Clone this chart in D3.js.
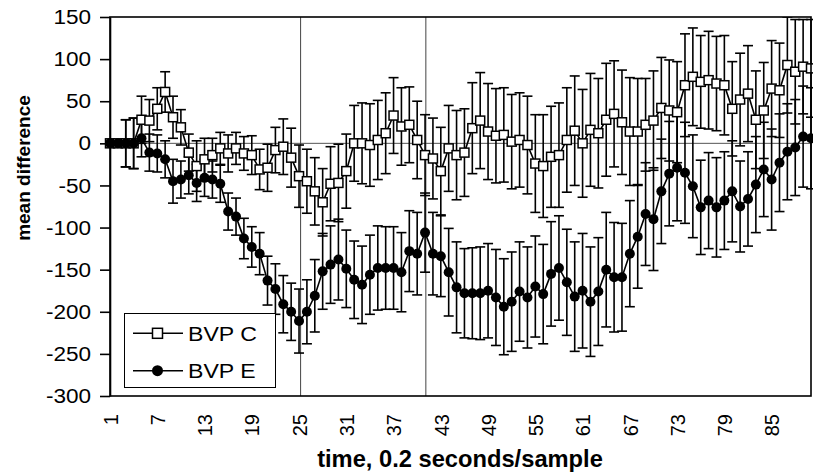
<!DOCTYPE html>
<html><head><meta charset="utf-8">
<script src="https://cdn.jsdelivr.net/npm/d3@7"></script>
<style>body{margin:0;background:#fff} text{font-family:"Liberation Sans",Arial,sans-serif;fill:#000}</style>
</head><body><svg id="c" width="813" height="476"></svg>
<script>
const samples = d3.range(1, 91);
const bvpC = [0,0,0,0,28,27,41,61,31,19, -11,-27,-19,-14,-6,-12,-6,-12,-14,-31,
  -29,-8,-4,-17,-39,-45,-57,-70,-48,-47, -33,0,0,-2,4,12,33,20,22,4,
  -14,-18,-33,-6,-14,-11,18,27,14,9, 10,2,4,-2,-24,-27,-16,-14,4,15,
  0,16,12,28,35,25,14,14,22,27, 42,39,37,69,79,73,75,71,69,41,
  52,59,28,39,65,63,93,85,91,89];
const bvpE = [0,0,0,0,6,-11,-12,-19,-45,-43, -38,-47,-41,-43,-48,-81,-87,-113,-123,-131,
  -163,-173,-191,-200,-211,-200,-181,-152,-144,-138, -149,-162,-168,-156,-148,-148,-148,-153,-128,-131,
  -106,-131,-134,-153,-171,-178,-178,-178,-175,-183, -194,-188,-176,-183,-170,-179,-155,-148,-165,-182,
  -175,-188,-176,-150,-159,-159,-131,-111,-84,-90, -57,-36,-29,-35,-51,-76,-68,-76,-68,-57,
  -75,-66,-49,-31,-43,-23,-10,-5,8,6];
const errC = [0,0,28,30,28,25,25,24,25,21, 22,30,25,20,19,22,19,20,23,24,
  28,27,33,35,37,38,40,40,44,46, 44,45,48,49,47,48,45,46,45,46,
  48,48,52,51,53,52,54,57,57,56, 56,56,56,58,58,61,60,62,62,65,
  64,67,65,67,63,62,64,63,55,59, 60,60,60,61,58,55,58,56,59,56,
  55,57,58,57,57,56,57,62,56,58];
const errE = [0,0,28,30,22,22,22,22,26,22, 22,22,22,22,22,22,22,24,24,25,
  29,30,34,34,38,38,43,45,46,48, 46,46,46,47,50,49,49,47,48,49,
  47,49,48,52,54,53,54,55,56,57, 57,59,59,60,60,59,62,62,63,65,
  68,65,64,68,65,64,63,61,61,61, 62,62,63,60,61,56,57,59,58,60,
  54,56,57,56,60,58,57,57,60,60];
const seriesNames = ["BVP C", "BVP E"];
const xTickLabels = [1,7,13,19,25,31,37,43,49,55,61,67,73,79,85];
const yTicks = [-300,-250,-200,-150,-100,-50,0,50,100,150];
const markerLines = [25.2, 41.1];

const L = 110, R = 811, T = 17, B = 396;
const svg = d3.select("#c");
const x = d3.scaleLinear().domain([1, 90]).range([L, R]);
const y = d3.scaleLinear().domain([-300, 150]).range([B, T]);

svg.append("defs").append("clipPath").attr("id", "clip")
  .append("rect").attr("x", L - 10).attr("y", T).attr("width", R - L + 20).attr("height", B - T);

// zero line
svg.append("line").attr("x1", L).attr("x2", R).attr("y1", y(0)).attr("y2", y(0))
  .attr("stroke", "#555").attr("stroke-width", 1);
// vertical marker lines
svg.selectAll(".vl").data(markerLines).enter().append("line")
  .attr("x1", d => x(d)).attr("x2", d => x(d)).attr("y1", T).attr("y2", B)
  .attr("stroke", "#444").attr("stroke-width", 1);

const series = [
  {name: seriesNames[0], vals: bvpC, err: errC},
  {name: seriesNames[1], vals: bvpE, err: errE}
];

// error bars
const eg = svg.append("g").attr("clip-path", "url(#clip)")
  .attr("stroke", "#000").attr("stroke-width", 1.6).attr("fill", "none");
series.forEach(s => {
  samples.forEach((c, i) => {
    const e = s.err[i];
    if (!e) return;
    const cx = x(c), y1 = y(s.vals[i] + e), y2 = y(s.vals[i] - e);
    eg.append("line").attr("x1", cx).attr("x2", cx).attr("y1", y1).attr("y2", y2);
    eg.append("line").attr("x1", cx - 5).attr("x2", cx + 5).attr("y1", y1).attr("y2", y1);
    eg.append("line").attr("x1", cx - 5).attr("x2", cx + 5).attr("y1", y2).attr("y2", y2);
  });
});

const line = d3.line().x((d, i) => x(samples[i])).y(d => y(d));
series.forEach((s, k) => {
  svg.append("path").datum(s.vals).attr("d", line)
    .attr("fill", "none").attr("stroke", "#000").attr("stroke-width", 1.6);
  if (k === 0) {
    svg.append("g").selectAll("rect").data(s.vals).enter().append("rect")
      .attr("x", (d, i) => x(samples[i]) - 4.5).attr("y", d => y(d) - 4.5)
      .attr("width", 9).attr("height", 9)
      .attr("fill", "#fff").attr("stroke", "#000").attr("stroke-width", 1.5);
  } else {
    svg.append("g").selectAll("circle").data(s.vals).enter().append("circle")
      .attr("cx", (d, i) => x(samples[i])).attr("cy", d => y(d)).attr("r", 5)
      .attr("fill", "#000");
  }
});

// plot border
svg.append("rect").attr("x", L).attr("y", T).attr("width", R - L).attr("height", B - T)
  .attr("fill", "none").attr("stroke", "#000").attr("stroke-width", 1.6);

// y axis
const ya = svg.append("g").attr("transform", `translate(${L},0)`)
  .call(d3.axisLeft(y).tickValues(yTicks).tickSize(10).tickPadding(9).tickSizeOuter(0)
    .tickFormat(d => String(d)));
ya.select(".domain").attr("stroke-width", 1.6);
ya.selectAll(".tick line").attr("stroke-width", 1.6);
ya.selectAll(".tick text").attr("font-size", 20.5)
  .attr("font-family", '"Liberation Sans",Arial,sans-serif')
  .attr("x", -19 / 1.1).attr("transform", "scale(1.1,1)");

// x axis labels
const xa = svg.append("g").attr("transform", `translate(0,${B})`)
  .call(d3.axisBottom(x).tickValues(xTickLabels).tickSize(0).tickFormat(d => String(d)));
xa.select(".domain").remove();
xa.selectAll(".tick text").attr("font-size", 20)
  .attr("font-family", '"Liberation Sans",Arial,sans-serif')
  .attr("transform", "rotate(-90)").attr("text-anchor", "end")
  .attr("x", -18).attr("y", 0).attr("dy", "0.36em");

// axis titles
svg.append("text").attr("transform", "translate(30,168) rotate(-90)")
  .attr("text-anchor", "middle").attr("font-weight", "bold").attr("font-size", 19)
  .text("mean difference");
svg.append("text").attr("x", 460).attr("y", 466.5)
  .attr("text-anchor", "middle").attr("font-weight", "bold").attr("font-size", 23.7)
  .text("time, 0.2 seconds/sample");

// legend
const lg = svg.append("g");
lg.append("rect").attr("x", 124.5).attr("y", 313.5).attr("width", 151).attr("height", 74)
  .attr("fill", "#fff").attr("stroke", "#000").attr("stroke-width", 1);
const ly = [333.3, 370.7];
seriesNames.forEach((n, k) => {
  lg.append("line").attr("x1", 133).attr("x2", 183).attr("y1", ly[k]).attr("y2", ly[k])
    .attr("stroke", "#000").attr("stroke-width", 1.6);
  if (k === 0) {
    lg.append("rect").attr("x", 152.5).attr("y", ly[k] - 5).attr("width", 10).attr("height", 10)
      .attr("fill", "#fff").attr("stroke", "#000").attr("stroke-width", 1.5);
  } else {
    lg.append("circle").attr("cx", 157.5).attr("cy", ly[k]).attr("r", 5.5).attr("fill", "#000");
  }
  lg.append("text").attr("transform", `translate(188,${ly[k] + 7.5}) scale(1.1,1)`)
    .attr("font-size", 21).text(n);
});
</script></body></html>
